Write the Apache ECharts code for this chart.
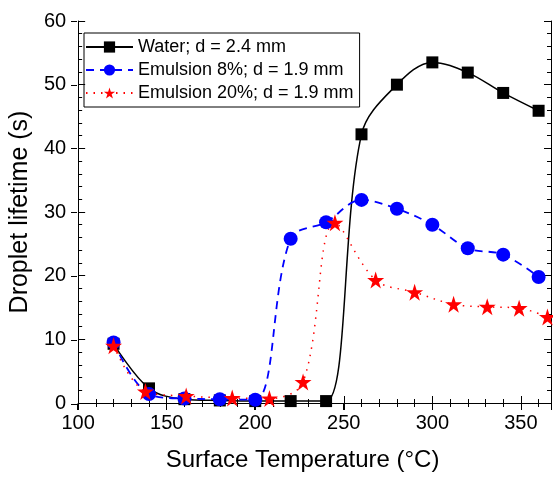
<!DOCTYPE html>
<html>
<head>
<meta charset="utf-8">
<script src="https://cdn.jsdelivr.net/npm/echarts@6/dist/echarts.min.js"></script>
<style>
  html, body { margin: 0; padding: 0; background: #fff; }
  #chart { width: 553px; height: 477px; }
</style>
</head>
<body>
<div id="chart"></div>
<script>
  // values
  let waterT = [120, 140, 160, 180, 200, 220, 240, 260, 280, 300, 320, 340, 360];
  let waterLife = [9.3, 2.3, 0.6, 0.4, 0.3, 0.3, 0.3, 42.2, 50.0, 53.5, 51.9, 48.7, 45.9];

  let em8T = [120, 140, 160, 180, 200, 220, 240, 260, 280, 300, 320, 340, 360];
  let em8Life = [9.5, 1.4, 0.7, 0.6, 0.5, 25.8, 28.4, 31.9, 30.5, 28.0, 24.3, 23.3, 19.8];

  let em20T = [120, 138, 161, 187, 208, 227, 245, 268, 290, 312, 331, 349, 365];
  let em20Life = [9.0, 1.8, 1.1, 0.8, 0.7, 3.3, 28.3, 19.3, 17.4, 15.5, 15.1, 14.9, 13.5];

  let names = ['Water; d = 2.4 mm', 'Emulsion 8%; d = 1.9 mm', 'Emulsion 20%; d = 1.9 mm'];

  function pairs(xs, ys) {
    let out = [];
    for (let i = 0; i < xs.length; i++) out.push([xs[i], ys[i]]);
    return out;
  }

  let font = 'Liberation Sans, Arial, sans-serif';
  let chart = echarts.init(document.getElementById('chart'));

  let gridBox = { left: 77, right: 2, top: 21, bottom: 73 };
  let axisLine = { show: true, lineStyle: { color: '#000', width: 1 } };
  let tickIn = { show: true, inside: true, length: 7, lineStyle: { color: '#000' } };
  let tickOut = { show: true, inside: false, length: 6, lineStyle: { color: '#000' } };
  let minor = { show: true, splitNumber: 5, length: 4, lineStyle: { color: '#000' } };
  let xRange = { type: 'value', min: 100, max: 367, interval: 50 };
  let yRange = { type: 'value', min: 0, max: 60, interval: 10 };
  let starPath = 'path://M50,0 L61.8,36.2 L100,36.2 L69.1,58.8 L80.9,95.1 L50,72.7 L19.1,95.1 L30.9,58.8 L0,36.2 L38.2,36.2 Z';

  let option = {
    animation: false,
    backgroundColor: '#fff',
    textStyle: { fontFamily: font },
    // second grid only carries the outward half of the major ticks
    grid: [Object.assign({}, gridBox), Object.assign({}, gridBox)],
    legend: {
      orient: 'vertical',
      left: 84,
      top: 33,
      padding: [5, 6, 5, 1],
      itemGap: 5,
      itemWidth: 47,
      itemHeight: 14,
      borderColor: '#000',
      borderWidth: 1,
      textStyle: { fontSize: 18, color: '#000', fontFamily: font },
      data: names
    },
    xAxis: [
      Object.assign({}, xRange, {
        gridIndex: 0,
        position: 'bottom',
        name: 'Surface Temperature (°C)',
        nameLocation: 'middle',
        nameGap: 45,
        nameTextStyle: { fontSize: 24, color: '#000', fontFamily: font, padding: [0, 24, 0, 0] },
        axisLine: axisLine,
        axisTick: tickIn,
        minorTick: minor,
        axisLabel: { color: '#000', fontSize: 20, margin: 10, showMaxLabel: false, fontFamily: font },
        splitLine: { show: false }
      }),
      Object.assign({}, xRange, {
        gridIndex: 0,
        position: 'top',
        axisLine: axisLine,
        axisTick: tickIn,
        minorTick: minor,
        axisLabel: { show: false },
        splitLine: { show: false }
      }),
      Object.assign({}, xRange, {
        gridIndex: 1,
        position: 'bottom',
        axisLine: { show: false },
        axisTick: tickOut,
        axisLabel: { show: false },
        splitLine: { show: false }
      })
    ],
    yAxis: [
      Object.assign({}, yRange, {
        gridIndex: 0,
        position: 'left',
        name: 'Droplet lifetime (s)',
        nameLocation: 'middle',
        nameGap: 40,
        nameTextStyle: { fontSize: 25, color: '#000', fontFamily: font },
        axisLine: axisLine,
        axisTick: tickIn,
        minorTick: minor,
        axisLabel: { color: '#000', fontSize: 20, margin: 12, fontFamily: font },
        splitLine: { show: false }
      }),
      Object.assign({}, yRange, {
        gridIndex: 0,
        position: 'right',
        axisLine: axisLine,
        axisTick: tickIn,
        minorTick: minor,
        axisLabel: { show: false },
        splitLine: { show: false }
      }),
      Object.assign({}, yRange, {
        gridIndex: 1,
        position: 'left',
        axisLine: { show: false },
        axisTick: tickOut,
        axisLabel: { show: false },
        splitLine: { show: false }
      })
    ],
    series: [
      {
        name: names[0],
        type: 'line',
        xAxisIndex: 0,
        yAxisIndex: 0,
        smooth: 0.35,
        symbol: 'rect',
        symbolSize: 12,
        itemStyle: { color: '#000' },
        lineStyle: { color: '#000', width: 1.5 },
        data: pairs(waterT, waterLife)
      },
      {
        name: names[1],
        type: 'line',
        xAxisIndex: 0,
        yAxisIndex: 0,
        smooth: 0.35,
        symbol: 'circle',
        symbolSize: 14,
        itemStyle: { color: '#0000ff' },
        lineStyle: { color: '#0000ff', width: 1.8, type: [8, 6] },
        data: pairs(em8T, em8Life)
      },
      {
        name: names[2],
        type: 'line',
        xAxisIndex: 0,
        yAxisIndex: 0,
        smooth: 0.35,
        symbol: starPath,
        symbolSize: 17,
        itemStyle: { color: '#ff0000' },
        lineStyle: { color: '#ff0000', width: 1.5, type: [1.5, 6] },
        data: pairs(em20T, em20Life)
      }
    ]
  };

  chart.setOption(option);
</script>
</body>
</html>
